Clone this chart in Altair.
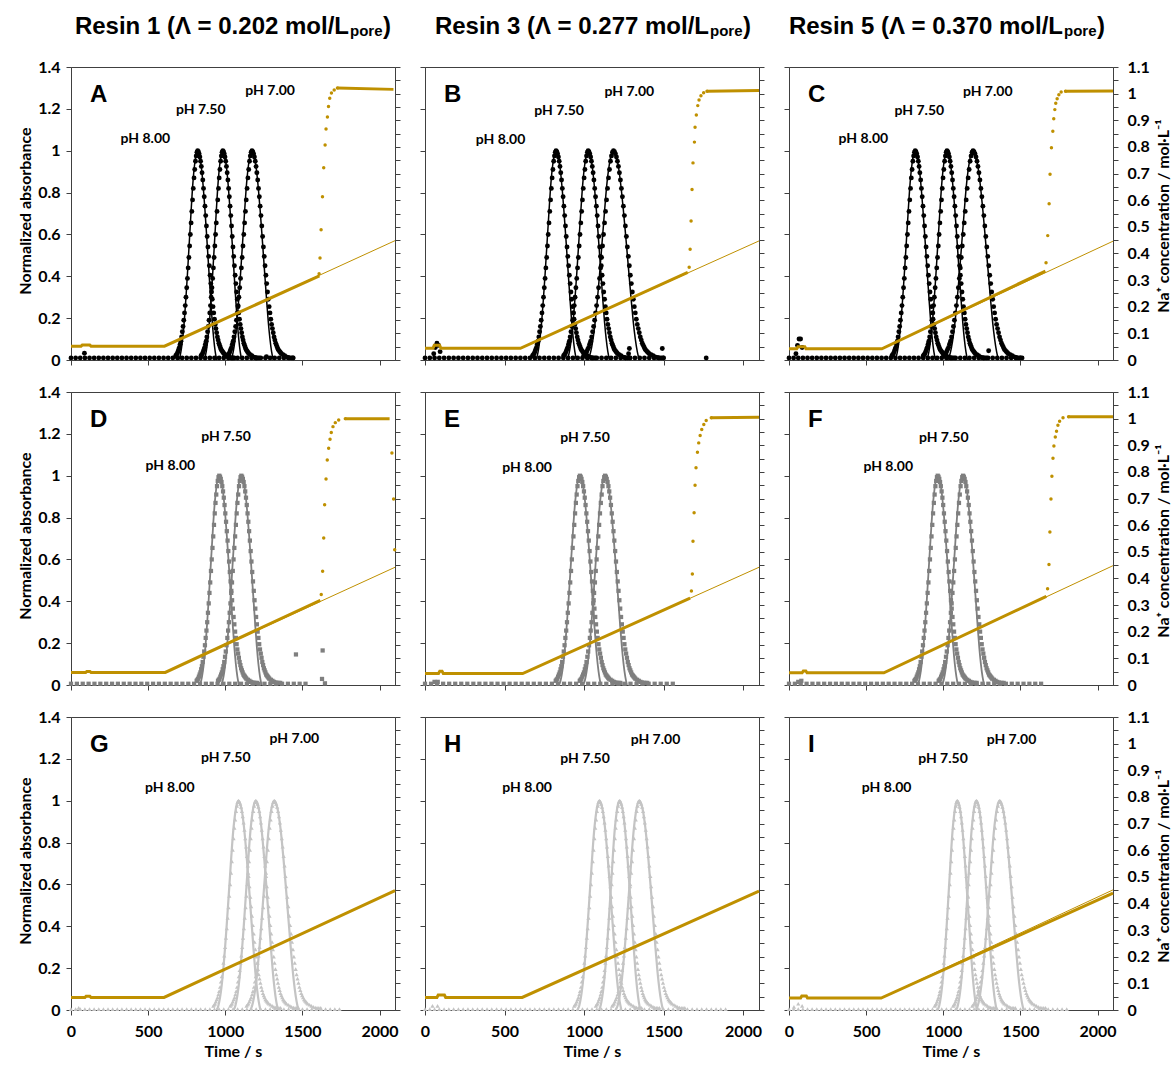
import altair as alt
import numpy as np
import pandas as pd

# ---------------- data ----------------
PANELS = [["A", "B", "C"], ["D", "E", "F"], ["G", "H", "I"]]
COLUMN_TITLES = [("Resin 1 (Λ = 0.202 mol/L", "pore", ")"),
                 ("Resin 3 (Λ = 0.277 mol/L", "pore", ")"),
                 ("Resin 5 (Λ = 0.370 mol/L", "pore", ")")]
PH_NAMES = ["pH 8.00", "pH 7.50", "pH 7.00"]

# normalised peak shape (offset from maximum, s)
DOT_OFFSETS = [-150, -145, -140, -135, -130, -125, -120, -115, -110, -105, -100, -95, -90, -85, -80,
               -75, -70, -65, -60, -55, -50, -45, -40, -35, -30, -25, -20, -15, -10, -5, 0,
               5, 10, 15, 20, 25, 30, 35, 40, 45, 50, 55, 60, 65, 70, 75, 80, 85, 90, 95, 100,
               105, 110, 115, 120, 125, 130, 135, 140, 145, 150, 155, 160, 165, 170, 175, 180,
               190, 200, 210, 220, 230, 240, 250]
DOT_PROFILE = [0.02, 0.025, 0.03, 0.04, 0.05, 0.06, 0.075, 0.09, 0.11, 0.135,
               0.16, 0.19, 0.225, 0.26, 0.30, 0.345, 0.39, 0.44, 0.49, 0.545,
               0.60, 0.655, 0.71, 0.765, 0.82, 0.87, 0.91, 0.95, 0.975, 0.993, 1.0,
               0.995, 0.985, 0.97, 0.95, 0.925, 0.895, 0.86, 0.82, 0.78, 0.735,
               0.69, 0.64, 0.59, 0.54, 0.495, 0.45, 0.405, 0.365, 0.325, 0.29,
               0.255, 0.225, 0.195, 0.17, 0.15, 0.13, 0.11, 0.095, 0.08, 0.07,
               0.06, 0.05, 0.045, 0.04, 0.035, 0.03,
               0.025, 0.02, 0.015, 0.012, 0.01, 0.01, 0.01]
FIT_OFFSETS = [-130, -120, -110, -100, -90, -80, -70, -60, -50, -40, -30, -20, -10, 0,
               10, 20, 30, 40, 50, 60, 70, 80, 90, 100, 110, 120, 130]
FIT_PROFILE = [0.0, 0.02, 0.06, 0.12, 0.20, 0.30, 0.41, 0.53, 0.65, 0.77, 0.87, 0.94, 0.985, 1.0,
               0.985, 0.95, 0.89, 0.81, 0.715, 0.61, 0.50, 0.39, 0.28, 0.18, 0.10, 0.04, 0.0]
PROFILE_FWHM = 133.0
assert len(DOT_OFFSETS) == len(DOT_PROFILE)
assert len(FIT_OFFSETS) == len(FIT_PROFILE)

PEAK_CENTER = {"A": [821, 984, 1173], "B": [824, 1026, 1185], "C": [818, 1024, 1193],
               "D": [961, 1104], "E": [974, 1132], "F": [964, 1128],
               "G": [1086, 1198, 1318], "H": [1097, 1224, 1348], "I": [1091, 1215, 1366]}
PEAK_FWHM = {"A": [126, 125, 141], "B": [131, 137, 166], "C": [134, 136, 169],
             "D": [130, 134], "E": [135, 141], "F": [134, 140],
             "G": [145, 147, 160], "H": [141, 133, 152], "I": [130, 134, 158]}
LABEL_T = {"A": [482, 841, 1291], "B": [475, 843, 1285], "C": [482, 845, 1288],
           "D": [644, 1005], "E": [642, 1006], "F": [643, 1003],
           "G": [641, 1003, 1448], "H": [642, 1006, 1449], "I": [633, 998, 1442]}
LABEL_Y = {"A": [1.054, 1.196, 1.286], "B": [1.049, 1.191, 1.281], "C": [1.057, 1.191, 1.281],
           "D": [1.045, 1.186], "E": [1.039, 1.181], "F": [1.042, 1.181],
           "G": [1.063, 1.203, 1.293], "H": [1.061, 1.199, 1.289], "I": [1.061, 1.199, 1.289]}

BASE_END = {"A": 1450, "B": 1500, "C": 1510, "D": 1550, "E": 1580, "F": 1660,
            "G": 1760, "H": 1900, "I": 1820}
BASE_LEVEL_ROW = [0.01, 0.006, 0.004]
BASE_STEP_ROW = [30, 38, 30]
EXTRA_T = {"A": [87, 1267], "B": [55, 65, 75, 85, 95, 1280, 1285, 1492, 1768],
           "C": [45, 55, 65, 75, 85, 1294], "D": [1458, 1627, 1631, 1646],
           "E": [60, 80], "F": [60, 80], "G": [50], "H": [47, 79], "I": [32, 60, 85]}
EXTRA_Y = {"A": [0.032, 0.016], "B": [0.03, 0.06, 0.08, 0.07, 0.04, 0.03, 0.055, 0.055, 0.01],
           "C": [0.03, 0.07, 0.10, 0.10, 0.06, 0.044], "D": [0.146, 0.029, 0.165, 0.008],
           "E": [0.015, 0.015], "F": [0.015, 0.02], "G": [0.01], "H": [0.02, 0.02],
           "I": [0.015, 0.03, 0.02]}

# Na+ concentration (mol/L, right axis)
GOLD_FLAT = {"A": 0.052, "B": 0.044, "C": 0.042, "D": 0.047, "E": 0.043, "F": 0.046,
             "G": 0.047, "H": 0.047, "I": 0.045}
GOLD_BUMP = {"A": [65, 130, 0.056], "B": [50, 100, 0.055], "C": [50, 110, 0.050],
             "D": [95, 130, 0.051], "E": [85, 115, 0.052], "F": [85, 117, 0.053],
             "G": [90, 130, 0.052], "H": [75, 130, 0.056], "I": [75, 120, 0.053]}
RAMP_START = {"A": 606, "B": 600, "C": 602, "D": 611, "E": 614, "F": 615,
              "G": 603, "H": 611, "I": 597}
GOLD_BREAK = {"A": [1610, 0.316], "B": [1652, 0.329], "C": [1662, 0.334],
              "D": [1616, 0.318], "E": [1667, 0.326], "F": [1668, 0.333],
              "G": [2100, 0.448], "H": [2100, 0.446], "I": [2100, 0.439]}
GOLD_END = {"A": 0.448, "B": 0.447, "C": 0.446, "D": 0.442, "E": 0.442, "F": 0.448,
            "G": 0.448, "H": 0.446, "I": 0.451}
BT_T = {"A": [1608, 1614, 1621, 1630, 1638, 1647, 1653, 1662, 1669, 1677, 1688, 1706, 1727],
        "B": [1661, 1667, 1673, 1679, 1685, 1694, 1698, 1706, 1715, 1723, 1735, 1752, 1773],
        "C": [1666, 1677, 1686, 1692, 1701, 1710, 1716, 1723, 1729, 1738, 1749, 1764, 1792],
        "D": [1622, 1631, 1638, 1644, 1653, 1661, 1670, 1679, 1687, 1698, 1713, 1735, 1778],
        "E": [1675, 1681, 1685, 1692, 1698, 1704, 1713, 1721, 1730, 1740, 1753, 1768, 1800],
        "F": [1676, 1685, 1691, 1698, 1704, 1711, 1717, 1726, 1734, 1743, 1754, 1776, 1812]}
BT_C = {"A": [0.324, 0.383, 0.489, 0.613, 0.722, 0.807, 0.867, 0.912, 0.952, 0.983, 1.002, 1.014, 1.021],
        "B": [0.348, 0.416, 0.522, 0.640, 0.740, 0.818, 0.874, 0.920, 0.955, 0.976, 0.992, 1.003, 1.009],
        "C": [0.365, 0.467, 0.587, 0.697, 0.797, 0.859, 0.906, 0.940, 0.964, 0.981, 0.996, 1.006, 1.009],
        "D": [0.340, 0.427, 0.552, 0.677, 0.773, 0.845, 0.889, 0.923, 0.948, 0.970, 0.985, 0.995, 1.000],
        "E": [0.353, 0.417, 0.540, 0.647, 0.750, 0.816, 0.874, 0.909, 0.937, 0.959, 0.978, 0.993, 1.003],
        "F": [0.361, 0.452, 0.574, 0.698, 0.784, 0.851, 0.897, 0.931, 0.953, 0.975, 0.990, 1.003, 1.007]}
PLATEAU = {"A": [2090, 1.016], "B": [2100, 1.012], "C": [2100, 1.010],
           "D": [2065, 1.000], "E": [2100, 1.005], "F": [2100, 1.007]}
DROP_T = {"D": [2080, 2091, 2098]}
DROP_C = {"D": [0.871, 0.698, 0.508]}

LEFT_TICKS = [0, 0.2, 0.4, 0.6, 0.8, 1.0, 1.2, 1.4]
RIGHT_TICKS = [0, 0.05, 0.1, 0.15, 0.2, 0.25, 0.3, 0.35, 0.4, 0.45, 0.5, 0.55, 0.6, 0.65,
               0.7, 0.75, 0.8, 0.85, 0.9, 0.95, 1.0, 1.05, 1.1]
X_TICKS = [0, 500, 1000, 1500, 2000]

# ---------------- styling ----------------
NUM_FONT = "Lato"
LETTER_FONT = "Liberation Sans"
AXIS_COLOR = "#404040"
GOLD = "#BF9000"
ROW_COLOR = ["#000000", "#7F7F7F", "#C4C4C4"]
ROW_SHAPE = ["circle", "square", "triangle-up"]
ROW_DOT_SIZE = [24, 18, 18]
ROW_LINE_W = [1.5, 1.8, 2.2]
WIDTHS = [324, 334, 324]
HEIGHT = 293
TITLE_XA = [278, 284, 274]
PORE_W = 33


def x_axis(r, W):
    show = r == 2
    kw = dict(values=X_TICKS, tickSize=5, labelFlush=False, grid=False, labels=show,
              labelFont=NUM_FONT, labelFontSize=16, labelFontWeight="bold", labelPadding=8,
              format="d", labelOverlap=False)
    if show:
        kw.update(title="Time / s", titleFont=NUM_FONT, titleFontSize=16, titleFontWeight="bold",
                  titleX=W / 2, titleY=41, titleBaseline="middle", titleAlign="center")
    else:
        kw["title"] = None
    return alt.Axis(**kw)


def left_axis(c):
    show = c == 0
    kw = dict(orient="left", values=LEFT_TICKS, tickSize=5, labels=show, format="~g",
              labelFont=NUM_FONT, labelFontSize=16, labelFontWeight="bold", labelPadding=6,
              labelFlush=False, labelOverlap=False, grid=False)
    if show:
        kw.update(title="Normalized absorbance", titleFont=NUM_FONT, titleFontSize=16,
                  titleFontWeight="bold", titleAngle=270, titleX=-46, titleY=HEIGHT / 2 - 3,
                  titleBaseline="middle", titleAlign="center")
    else:
        kw["title"] = None
    return alt.Axis(**kw)


def right_axis(c):
    show = c == 2
    kw = dict(orient="right", values=RIGHT_TICKS, tickSize=5, labels=show,
              labelExpr="round(datum.value * 20) % 2 == 0 ? format(datum.value, '~g') : ''",
              labelFont=NUM_FONT, labelFontSize=16, labelFontWeight="bold", labelPadding=9,
              labelFlush=False, labelOverlap=False, grid=False)
    if show:
        kw.update(title="Na⁺ concentration / mol·L⁻¹", titleFont=NUM_FONT, titleFontSize=16,
                  titleFontWeight="bold", titleAngle=270, titleX=50, titleY=HEIGHT / 2 + 2,
                  titleBaseline="middle", titleAlign="center")
    else:
        kw["title"] = None
    return alt.Axis(**kw)


def panel(key, r, c):
    W = WIDTHS[c]
    xenc = alt.X("t:Q", scale=alt.Scale(domain=[0, 2100], nice=False, zero=False), axis=x_axis(r, W))
    yA = alt.Y("a:Q", scale=alt.Scale(domain=[0, 1.4], nice=False), axis=left_axis(c))
    yC = alt.Y("c:Q", scale=alt.Scale(domain=[0, 1.1], nice=False), axis=right_axis(c))

    dot_rows, fit_rows = [], []
    for i, (ctr, fw) in enumerate(zip(PEAK_CENTER[key], PEAK_FWHM[key])):
        w = fw / PROFILE_FWHM
        for off, v in zip(DOT_OFFSETS, DOT_PROFILE):
            dot_rows.append({"t": ctr + off * w, "a": v})
        for off, v in zip(FIT_OFFSETS, FIT_PROFILE):
            fit_rows.append({"t": ctr + off * w, "a": v, "peak": i})
    for t in np.arange(0, BASE_END[key] + 1, BASE_STEP_ROW[r]):
        dot_rows.append({"t": float(t), "a": BASE_LEVEL_ROW[r]})
    for t, v in zip(EXTRA_T[key], EXTRA_Y[key]):
        dot_rows.append({"t": t, "a": v})

    n = len(PEAK_CENTER[key])
    lab_df = pd.DataFrame({"t": LABEL_T[key], "a": LABEL_Y[key], "label": PH_NAMES[:n]})
    one = pd.DataFrame({"k": [key]})

    fits = alt.Chart(pd.DataFrame(fit_rows)).mark_line(
        color=ROW_COLOR[r], strokeWidth=ROW_LINE_W[r], interpolate="monotone"
    ).encode(x=xenc, y=yA, detail="peak:N")
    dots = alt.Chart(pd.DataFrame(dot_rows)).mark_point(
        filled=True, shape=ROW_SHAPE[r], size=ROW_DOT_SIZE[r], color=ROW_COLOR[r], opacity=1
    ).encode(x=xenc, y=yA)
    labels = alt.Chart(lab_df).mark_text(
        font=NUM_FONT, fontSize=14, fontWeight="bold", color="black"
    ).encode(x=xenc, y=yA, text="label:N")
    letter = alt.Chart(one).mark_text(
        font=LETTER_FONT, fontSize=24, fontWeight="bold", color="black", align="left",
        baseline="alphabetic"
    ).encode(x=alt.value(19), y=alt.value(35), text="k:N")
    left_layers = [fits, dots, labels, letter]

    if r == 0:
        main, sub, par = COLUMN_TITLES[c]
        tdf = pd.DataFrame({"m": [main], "s": [sub], "p": [par]})
        xa = TITLE_XA[c]
        left_layers.append(alt.Chart(tdf).mark_text(
            font=LETTER_FONT, fontSize=24, fontWeight="bold", color="black", align="right",
            baseline="alphabetic").encode(x=alt.value(xa), y=alt.value(-33), text="m:N"))
        left_layers.append(alt.Chart(tdf).mark_text(
            font=LETTER_FONT, fontSize=15, fontWeight="bold", color="black", align="left",
            baseline="alphabetic").encode(x=alt.value(xa + 1), y=alt.value(-31), text="s:N"))
        left_layers.append(alt.Chart(tdf).mark_text(
            font=LETTER_FONT, fontSize=24, fontWeight="bold", color="black", align="left",
            baseline="alphabetic").encode(x=alt.value(xa + 1 + PORE_W), y=alt.value(-33), text="p:N"))

    group_a = alt.layer(*left_layers)

    f = GOLD_FLAT[key]
    b0, b1, bv = GOLD_BUMP[key]
    thick_df = pd.DataFrame({
        "t": [0, b0, b0 + 8, b1 - 8, b1, RAMP_START[key], GOLD_BREAK[key][0]],
        "c": [f, f, bv, bv, f, f, GOLD_BREAK[key][1]]})
    thin_df = pd.DataFrame({"t": [RAMP_START[key], 2100], "c": [f, GOLD_END[key]]})
    thin = alt.Chart(thin_df).mark_line(color=GOLD, strokeWidth=1).encode(x=xenc, y=yC)
    thick = alt.Chart(thick_df).mark_line(color=GOLD, strokeWidth=3).encode(x=xenc, y=yC)
    gold_layers = [thin, thick]
    if key in BT_T:
        bt_df = pd.DataFrame({"t": BT_T[key] + DROP_T.get(key, []),
                              "c": BT_C[key] + DROP_C.get(key, [])})
        gold_layers.append(alt.Chart(bt_df).mark_point(
            filled=True, shape="circle", size=12, color=GOLD, opacity=1).encode(x=xenc, y=yC))
        pl_df = pd.DataFrame({"t": [BT_T[key][-1], PLATEAU[key][0]],
                              "c": [BT_C[key][-1], PLATEAU[key][1]]})
        gold_layers.append(alt.Chart(pl_df).mark_line(color=GOLD, strokeWidth=3).encode(x=xenc, y=yC))
    group_b = alt.layer(*gold_layers)

    return alt.layer(group_a, group_b).resolve_scale(y="independent").properties(
        width=W, height=HEIGHT)


panels = [panel(PANELS[r][c], r, c) for r in range(3) for c in range(3)]

chart = alt.concat(*panels, columns=3, spacing={"row": 32, "column": 30},
                   bounds="flush").properties(
    padding={"left": 16, "top": 14, "right": 0, "bottom": 0},
    background="white",
).configure_view(
    stroke=AXIS_COLOR, strokeWidth=1
).configure_axis(
    domainColor=AXIS_COLOR, tickColor=AXIS_COLOR, labelColor="black", titleColor="black",
    domainWidth=1, tickWidth=1
)

chart.save("out.html", embed_options={"renderer": "svg", "actions": False})
